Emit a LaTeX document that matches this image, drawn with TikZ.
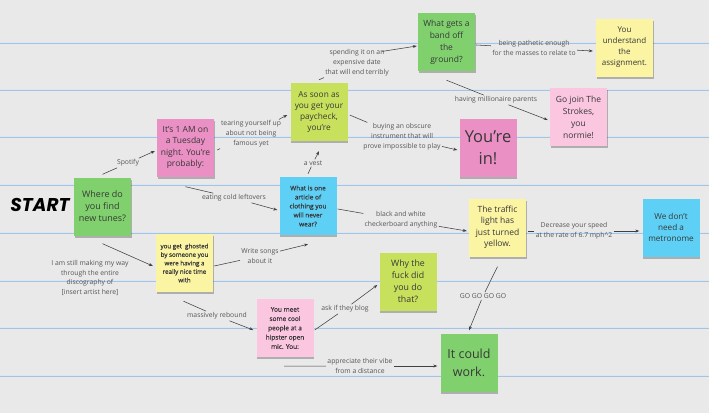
\documentclass[tikz,border=0pt]{standalone}
\usepackage{fontspec}
\setmainfont{Open Sans}
\newfontfamily\startfont{Poppins}
\newfontfamily\semib{Open Sans}[FakeBold=0.25]
\usetikzlibrary{arrows.meta,shadows}
\definecolor{paper}{HTML}{E9E9E9}
\definecolor{ruled}{HTML}{9BBDE3}
\definecolor{cgreen}{HTML}{80D16E}
\definecolor{cpink}{HTML}{EA90C4}
\definecolor{clime}{HTML}{C8E15C}
\definecolor{cblue}{HTML}{5ED0F6}
\definecolor{cyellow}{HTML}{FBF4A2}
\definecolor{clpink}{HTML}{FAC6E0}
\definecolor{txt}{HTML}{383838}
\definecolor{labc}{HTML}{555555}
\definecolor{linec}{HTML}{404040}
\tikzset{
  note/.style={fill=#1, minimum width=57pt, minimum height=58pt,
    align=center, inner sep=0pt, text=txt,
    drop shadow={shadow xshift=0.5pt, shadow yshift=-2pt, opacity=0.25, fill=black}},
  fs/.style 2 args={font=\fontsize{#1}{#2}\selectfont},
  sfs/.style 2 args={font=\semib\fontsize{#1}{#2}\selectfont},
  lab/.style={font=\fontsize{6.8}{9.8}\selectfont, text=labc, align=center, inner sep=1.2pt},
  conn/.style={draw=linec, line width=0.55pt},
  arr/.style={conn, -{Stealth[length=4pt,width=3pt]}},
}
\begin{document}
\begin{tikzpicture}[x=1pt,y=-1pt]
\useasboundingbox (0,0) rectangle (709,413);
\fill[paper] (0,0) rectangle (709,413);
\foreach \yy in {43,90,137,185,233,281,328,376}{
  \draw[ruled, line width=1.9pt, opacity=0.85] (0,\yy) -- (709,\yy);
  \draw[white, line width=0.4pt, opacity=0.6] (0,\yy-0.5) -- (709,\yy-0.5);
}

% START
\node[font=\startfont\bfseries\itshape\fontsize{18.5}{18.5}\selectfont, text=black, inner sep=0pt] (start) at (40,205) {START};

% notes
\node[note=cgreen, fs={9}{12}] (where) at (102.5,206.5) {Where do\\you find\\new tunes?};
\node[note=cpink, fs={8.5}{11.5}] (am) at (185.5,147.5) {It's 1 AM on\\a Tuesday\\night. You're\\probably:};
\node[note=clime, fs={8.3}{11}] (pay) at (319,112) {As soon as\\you get your\\paycheck,\\you're};
\node[note=cblue, sfs={6.5}{9}] (vest) at (308,206) {What is one\\article of\\clothing you\\will never\\wear?};
\node[note=cgreen, fs={8.5}{12}] (band) at (446.5,42) {What gets a\\band off\\the\\ground?};
\node[note=cyellow, fs={8}{11}] (assign) at (624.5,47.5) {You\\understand\\the\\assignment.};
\node[note=clpink, fs={8.5}{12}] (strokes) at (578.5,117) {Go join The\\Strokes,\\you\\normie!};
\node[note=cpink, fs={16.5}{22}] (youin) at (488,148) {You're\\in!};
\node[note=cyellow, fs={8.5}{11.5}] (traffic) at (497.5,227.5) {The traffic\\light has\\just turned\\yellow.};
\node[note=cblue, fs={8.2}{11}] (metro) at (671,227.5) {We don't\\need a\\metronome};
\node[note=cyellow, sfs={6.2}{8.5}] (ghost) at (184.5,263) {you get\ \ ghosted\\by someone you\\were having a\\really nice time\\with};
\node[note=clpink, sfs={6.5}{9.3}] (meet) at (285,328) {You meet\\some cool\\people at a\\hipster open\\mic. You:};
\node[note=clime, fs={8.8}{12}] (why) at (408,281.5) {Why the\\fuck did\\you do\\that?};
\node[note=cgreen, fs={12.5}{18}] (work) at (469,362.5) {It could\\work.};

% labels
\node[lab] (lspot) at (128,163) {Spotify};
\node[lab] (leat) at (234,198) {eating cold leftovers};
\node[lab] (ltear) at (251,134) {tearing yourself up\\about not being\\famous yet};
\node[lab] (lspend) at (357,63) {spending it on an\\expensive date\\that will end terribly};
\node[lab] (lbuy) at (402,137) {buying an obscure\\instrument that will\\prove impossible to play};
\node[lab] (lvest) at (313,163) {a vest};
\node[lab] (lpath) at (534,48) {being pathetic enough\\for the masses to relate to};
\node[lab] (lmill) at (496,100) {having millionaire parents};
\node[lab] (lbw) at (401,220) {black and white\\checkerboard anything};
\node[lab] (lwrite) at (260,256) {Write songs\\about it};
\node[lab] (lreb) at (217,316) {massively rebound};
\node[lab] (lblog) at (345,309) {ask if they blog};
\node[lab] (lapp) at (360,366) {appreciate their vibe\\from a distance};
\node[lab] (ldec) at (574,231) {Decrease your speed\\at the rate of 6.7 mph\^{}2};
\node[lab] (lgo) at (483,296) {GO GO GO GO};
\node[lab] (lstill) at (90,278) {I am still making my way\\through the entire\\discography of\\{[insert artist here]}};

% connectors
\draw[conn] ([yshift=3pt]where.north) -- (lspot);
\draw[arr] (lspot) -- ([yshift=-3.5pt,xshift=-2pt]am.west);

\draw[conn] ([yshift=-10pt]am.south) -- (leat);
\draw[arr] (leat) -- ([yshift=-4pt,xshift=-2pt]vest.west);

\draw[conn] ([yshift=-2.5pt,xshift=3pt]am.east) -- (ltear);
\draw[arr] (ltear) -- ([yshift=-3pt,xshift=-3pt]pay.west);

\draw[conn] ([yshift=3pt]pay.north) -- (lspend);
\draw[arr] ([xshift=-8pt,yshift=-3pt]lspend.north east) -- ([yshift=-4pt,xshift=-1pt]band.west);

\draw[conn] ([yshift=-3pt,xshift=2pt]pay.east) -- (lbuy);
\draw[arr] (lbuy) -- ([yshift=-2pt,xshift=-2pt]youin.west);

\draw[conn] ([yshift=3pt]vest.north) -- (lvest);
\draw[arr] (lvest) -- ([yshift=-10pt]pay.south);

\draw[conn] ([yshift=-3pt,xshift=1pt]band.east) -- (lpath);
\draw[arr] (lpath) -- ([yshift=-3.5pt,xshift=-3pt]assign.west);

\draw[conn] ([yshift=-9pt]band.south) -- (lmill);
\draw[arr] (lmill) -- ([yshift=-3pt,xshift=-2pt]strokes.west);

\draw[conn] ([yshift=-3pt,xshift=1pt]vest.east) -- (lbw);
\draw[arr] (lbw) -- ([yshift=-3.5pt,xshift=-2pt]traffic.west);

\draw[arr] ([yshift=-8pt]where.south) -- ([yshift=-3pt,xshift=-3pt]ghost.west);

\draw[conn] ([yshift=-3pt,xshift=1pt]ghost.east) -- (lwrite);
\draw[arr] (lwrite) -- ([yshift=-9pt]vest.south);

\draw[conn] ([yshift=-9pt,xshift=-1pt]ghost.south) -- (lreb);
\draw[arr] (lreb) -- ([yshift=-2pt,xshift=-3pt]meet.west);

\draw[conn] ([yshift=-2pt,xshift=1pt]meet.east) -- (lblog);
\draw[arr] (lblog) -- ([yshift=-3.5pt,xshift=-2pt]why.west);

\draw[conn] ([yshift=-9pt,xshift=-1pt]meet.south) -- (lapp);
\draw[arr] (lapp) -- ([yshift=-3.5pt,xshift=-3pt]work.west);

\draw[conn] ([yshift=-3.5pt,xshift=2pt]traffic.east) -- (ldec);
\draw[arr] (ldec) -- ([yshift=-3.5pt,xshift=-3pt]metro.west);

\draw[conn] ([yshift=-10pt]traffic.south) -- (lgo);
\draw[arr] (lgo) -- ([yshift=3pt]work.north);
\end{tikzpicture}
\end{document}
